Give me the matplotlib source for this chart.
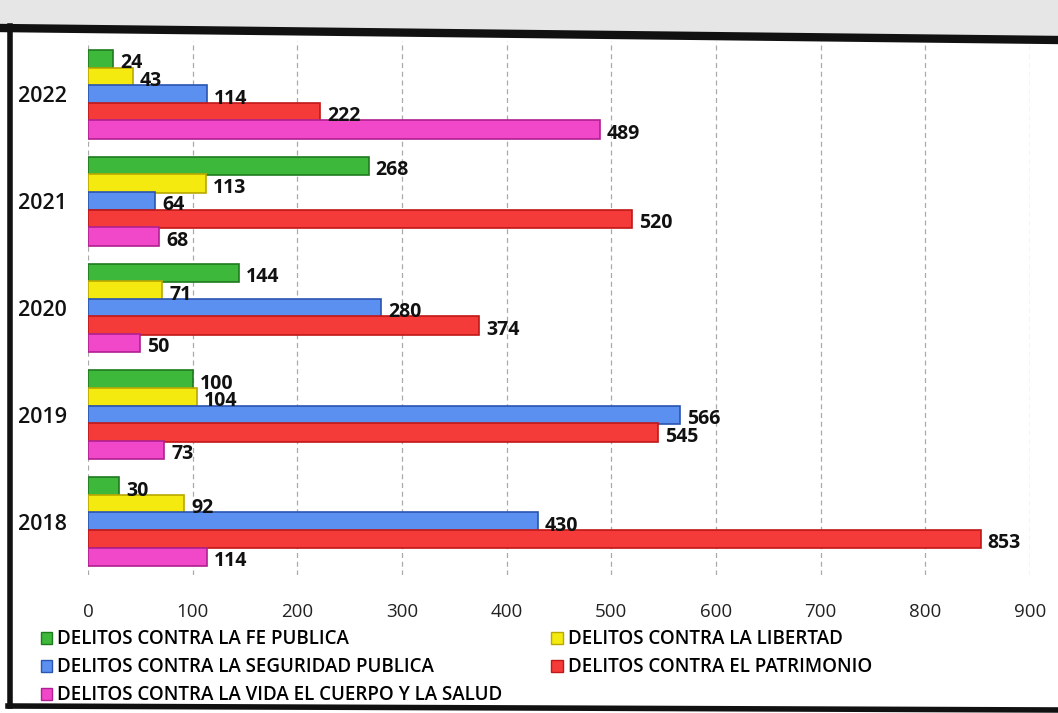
import matplotlib
matplotlib.use("Agg")
import matplotlib.pyplot as plt
from matplotlib.lines import Line2D
from matplotlib.patches import Polygon, Patch
import numpy as np

years = ["2018", "2019", "2020", "2021", "2022"]
series_names = [
    "DELITOS CONTRA LA FE PUBLICA",
    "DELITOS CONTRA LA LIBERTAD",
    "DELITOS CONTRA LA SEGURIDAD PUBLICA",
    "DELITOS CONTRA EL PATRIMONIO",
    "DELITOS CONTRA LA VIDA EL CUERPO Y LA SALUD",
]
fe_publica = [30, 100, 144, 268, 24]
libertad = [92, 104, 71, 113, 43]
seguridad = [430, 566, 280, 64, 114]
patrimonio = [853, 545, 374, 520, 222]
vida = [114, 73, 50, 68, 489]
x_ticks = [0, 100, 200, 300, 400, 500, 600, 700, 800, 900]

series_values = [fe_publica, libertad, seguridad, patrimonio, vida]
face_colors = ["#3db83a", "#f4ea10", "#5b8ff0", "#f53a3a", "#f048c8"]
edge_colors = ["#1f7a1f", "#b8a800", "#2a55b0", "#c01818", "#b02090"]

W, H = 1058, 713
fig = plt.figure(figsize=(W / 100, H / 100), dpi=100)
fig.patch.set_facecolor("white")

left, right, top, bottom = 88, 1030, 41, 575
ax = fig.add_axes([left / W, 1 - bottom / H, (right - left) / W, (bottom - top) / H])
ax.set_facecolor("white")

h = 0.165
ypos = np.arange(len(years))
for j, (vals, fc, ec) in enumerate(zip(series_values, face_colors, edge_colors)):
    yy = ypos + (2 - j) * h
    ax.barh(yy, vals, height=h * 1.04, color=fc, edgecolor=ec, linewidth=1.2, zorder=3)
    for y, v in zip(yy, vals):
        ax.annotate(str(v), (v, y), xytext=(5, -3), textcoords="offset points",
                    ha="left", va="center", fontsize=14, fontweight="bold",
                    color="#111111", family=["Open Sans", "DejaVu Sans"], zorder=4)

ax.set_xlim(0, 900)
ax.set_ylim(-0.5, 4.5)
ax.set_xticks(x_ticks)
ax.set_xticklabels([str(t) for t in x_ticks], fontsize=13.5, color="#222222",
                   family=["Open Sans", "DejaVu Sans"])
ax.set_yticks(ypos)
ax.set_yticklabels(years, fontsize=15.5, color="#111111", family=["Open Sans", "DejaVu Sans"],
                   fontweight="semibold")
ax.tick_params(axis="both", length=0)
ax.tick_params(axis="x", pad=20)
ax.tick_params(axis="y", pad=15)
ax.grid(axis="x", linestyle=(0, (4, 3)), color="#aaaaaa", linewidth=0.9, zorder=0)
ax.set_axisbelow(True)
for s in ax.spines.values():
    s.set_visible(False)

order = [0, 2, 4, 1, 3]
handles = [Patch(facecolor=face_colors[i], edgecolor=edge_colors[i], linewidth=1) for i in order]
labels = [series_names[i] for i in order]
leg = fig.legend(handles, labels, ncol=2, loc="upper left",
                 bbox_to_anchor=(33 / W, 1 - 622 / H), frameon=False,
                 prop={"family": ["Open Sans", "DejaVu Sans"], "size": 13.5, "weight": "semibold"},
                 handlelength=0.6, handleheight=0.6, handletextpad=0.3,
                 columnspacing=2.6, labelspacing=0.42, borderaxespad=0)

def px(x, y):
    return (x / W, 1 - y / H)

fig.add_artist(Polygon([px(0, 0), px(W, 0), px(W, 38), px(0, 27)], closed=True,
                       transform=fig.transFigure, facecolor="#e6e6e6", edgecolor="none"))
for (x0, y0), (x1, y1), lw in [((0, 28), (W, 40), 6), ((10, 26), (10, 706), 4),
                               ((8, 706), (W, 710), 4)]:
    a, b = px(x0, y0), px(x1, y1)
    fig.add_artist(Line2D([a[0], b[0]], [a[1], b[1]], transform=fig.transFigure,
                          color="#111111", linewidth=lw))

fig.savefig("out.png", dpi=100)
